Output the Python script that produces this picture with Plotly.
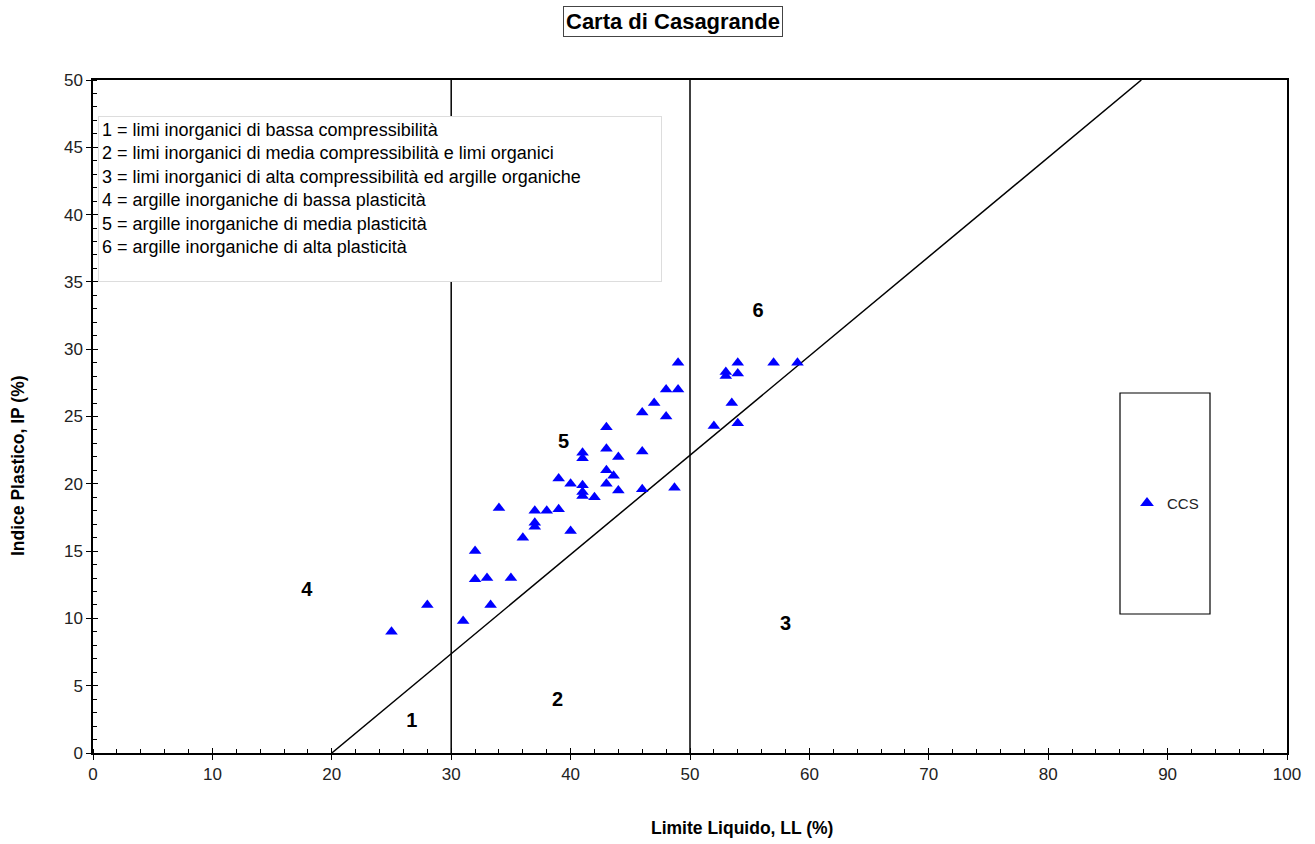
import plotly.graph_objects as go

# Campioni: limite liquido (LL, %) e indice plastico (IP, %)
ll_values = [25, 28, 31, 32, 32, 33, 33.3, 34, 35, 36,
             37, 37, 37, 38, 39, 39, 40, 40, 41, 41,
             41, 41, 41, 42, 43, 43, 43, 43, 43.6, 44,
             44, 46, 46, 46, 47, 48, 48.7, 49, 48, 49,
             54, 53, 53, 54, 57, 59, 53.5, 52, 54]
ip_values = [9, 11, 9.8, 15, 12.9, 13, 11, 18.2, 13, 16,
             17.1, 16.8, 18, 18, 18.1, 20.4, 20, 16.5, 22.3, 21.9,
             19.9, 19.4, 19.1, 19, 24.2, 22.6, 21, 20, 20.6, 22,
             19.5, 22.4, 19.6, 25.3, 26, 25, 19.7, 29, 27, 27,
             29, 28.3, 28, 28.2, 29, 29, 26, 24.3, 24.5]

# Linea A di Casagrande
a_line_ll = [20, 87.8]
a_line_ip = [0, 50]

# Limiti verticali di compressibilita
limit_ll = [30, 50]
limit_ip = [0, 50]

# Etichette delle zone della carta
zone_labels = ["1", "2", "3", "4", "5", "6"]
zone_ll = [26.7, 38.9, 58.0, 17.9, 39.4, 55.7]
zone_ip = [2.3, 3.9, 9.5, 12.0, 23.0, 32.8]

zone_legend = [
    "1 = limi inorganici di bassa compressibilità",
    "2 = limi inorganici di media compressibilità e limi organici",
    "3 = limi inorganici di alta compressibilità ed argille organiche",
    "4 = argille inorganiche di bassa plasticità",
    "5 = argille inorganiche di media plasticità",
    "6 = argille inorganiche di alta plasticità",
]

FONT = "Arial, Liberation Sans, sans-serif"

fig = go.Figure()

for ll in limit_ll:
    fig.add_trace(go.Scatter(x=[ll, ll], y=limit_ip, mode="lines",
                             line=dict(color="black", width=1.5),
                             showlegend=False, hoverinfo="skip"))

fig.add_trace(go.Scatter(x=a_line_ll, y=a_line_ip, mode="lines",
                         line=dict(color="black", width=1.5),
                         showlegend=False, hoverinfo="skip"))

fig.add_trace(go.Scatter(x=ll_values, y=ip_values, mode="markers", name="CCS",
                         marker=dict(symbol="triangle-up", size=11, color="#0000FF")))

fig.add_trace(go.Scatter(x=zone_ll, y=zone_ip, mode="text", text=zone_labels,
                         textfont=dict(family=FONT, size=20, color="black"),
                         showlegend=False, hoverinfo="skip",
                         texttemplate="<b>%{text}</b>"))

# Traccia invisibile per gli assi sovrapposti (tacche interne)
fig.add_trace(go.Scatter(x=[0], y=[0], xaxis="x2", yaxis="y2", mode="markers",
                         marker=dict(opacity=0), showlegend=False, hoverinfo="skip"))

axis_common = dict(showgrid=False, zeroline=False, showline=True, linecolor="black",
                   linewidth=1.5, mirror=True, ticks="outside", ticklen=5,
                   tickcolor="black", tickwidth=1.2,
                   tickfont=dict(family=FONT, size=17, color="#222"))

fig.update_layout(
    width=1315, height=844,
    margin=dict(l=93, r=28, t=80, b=91),
    paper_bgcolor="white", plot_bgcolor="white",
    font=dict(family=FONT, color="black"),
    xaxis=dict(range=[0, 100], dtick=10, **axis_common,
               minor=dict(dtick=2, ticks="inside", ticklen=4, tickcolor="black", tickwidth=1)),
    yaxis=dict(range=[0, 50], dtick=5, **axis_common,
               minor=dict(dtick=1, ticks="inside", ticklen=4, tickcolor="black", tickwidth=1)),
    xaxis2=dict(range=[0, 100], dtick=10, overlaying="x", anchor="y", side="bottom",
                showgrid=False, zeroline=False, showline=False, showticklabels=False,
                ticks="inside", ticklen=5, tickcolor="black", tickwidth=1.2),
    yaxis2=dict(range=[0, 50], dtick=5, overlaying="y", anchor="x", side="left",
                showgrid=False, zeroline=False, showline=False, showticklabels=False,
                ticks="inside", ticklen=5, tickcolor="black", tickwidth=1.2),
    showlegend=True,
    legend=dict(x=0.866, y=0.371, xanchor="left", yanchor="middle",
                bgcolor="rgba(0,0,0,0)", borderwidth=0,
                font=dict(family=FONT, size=15, color="#222"),
                itemsizing="constant", itemwidth=30),
)

# Riquadro della legenda
fig.add_shape(type="rect", xref="paper", yref="paper",
              x0=(1120 - 93) / 1194, x1=(1210 - 93) / 1194,
              y0=(753 - 614) / 673, y1=(753 - 393) / 673,
              line=dict(color="black", width=1.2), fillcolor="rgba(0,0,0,0)")

# Titolo
fig.add_annotation(text="<b>Carta di Casagrande</b>", xref="paper", yref="paper",
                   x=0.486, y=1.087, xanchor="center", yanchor="middle", showarrow=False,
                   font=dict(family=FONT, size=22, color="black"),
                   bordercolor="#444", borderwidth=1, borderpad=2, bgcolor="white")

# Titoli degli assi
fig.add_annotation(text="<b>Limite Liquido, LL (%)</b>", xref="paper", yref="paper",
                   x=0.5436, y=-0.1114, xanchor="center", yanchor="middle", showarrow=False,
                   font=dict(family=FONT, size=17.5, color="black"))
fig.add_annotation(text="<b>Indice Plastico, IP (%)</b>", xref="paper", yref="paper",
                   x=-0.0628, y=0.4264, xanchor="center", yanchor="middle", showarrow=False,
                   textangle=-90, font=dict(family=FONT, size=17.5, color="black"))

# Descrizione delle zone
fig.add_annotation(text="<br>".join(zone_legend) + "<br> ", xref="paper", yref="paper",
                   x=(98 - 93) / 1194, y=(753 - 116) / 673, xanchor="left", yanchor="top",
                   showarrow=False, align="left", valign="top", width=556, height=158,
                   font=dict(family=FONT, size=18, color="black"),
                   bordercolor="#ddd", borderwidth=1, borderpad=3, bgcolor="white")

fig.write_html("out.html")
